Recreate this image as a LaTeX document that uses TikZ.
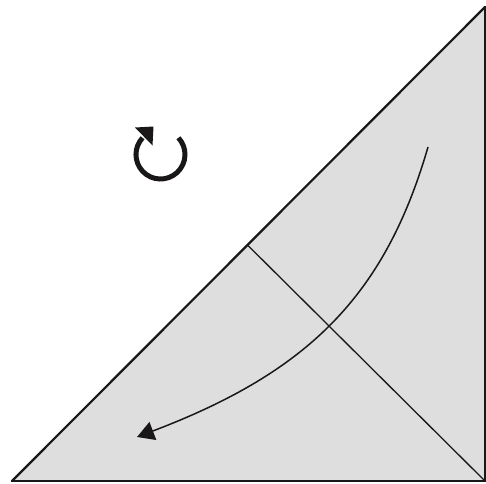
\documentclass[tikz,border=0pt]{standalone}
\usetikzlibrary{arrows.meta}
\definecolor{paper}{RGB}{222,222,222}
\definecolor{ink}{RGB}{26,23,24}
\tikzset{
  edge/.style={draw=ink,line width=1.3pt},
  hypo/.style={draw=ink,line width=2.2pt,line cap=round},
  movearrow/.style={draw=ink,line width=1.5pt,-{Triangle[length=17pt,width=19pt]}},
  rotarc/.style={draw=ink,line width=5pt},
}
\begin{document}
\begin{tikzpicture}[x=1pt,y=1pt]
\useasboundingbox (0,0) rectangle (486,-483);
\coordinate (bl) at (12,-481);
\coordinate (tr) at (485,-7);
\coordinate (br) at (485,-481);
\coordinate (mid) at (248,-245.5);
\coordinate (as) at (428,-147);
\coordinate (ae) at (137,-437);
\fill[paper] (bl) -- (tr) -- (br) -- cycle;
\draw[edge] (tr) -- (br) -- (bl);
\draw[edge] (mid) -- (br);
\draw[hypo] (bl) -- (tr);
\draw[movearrow] (as) .. controls (384.5,-297) and (307,-372.4) .. (ae);
% rotation symbol
\coordinate (rs) at (178.4,-137.8);
\draw[rotarc] (rs) arc[start angle=43,end angle=-223,radius=24.5];
\coordinate (t1) at (135,-127.5);
\coordinate (t2) at (153.5,-126.5);
\coordinate (t3) at (152.5,-145.5);
\fill[ink] (t1) -- (t2) -- (t3) -- cycle;
\end{tikzpicture}
\end{document}
